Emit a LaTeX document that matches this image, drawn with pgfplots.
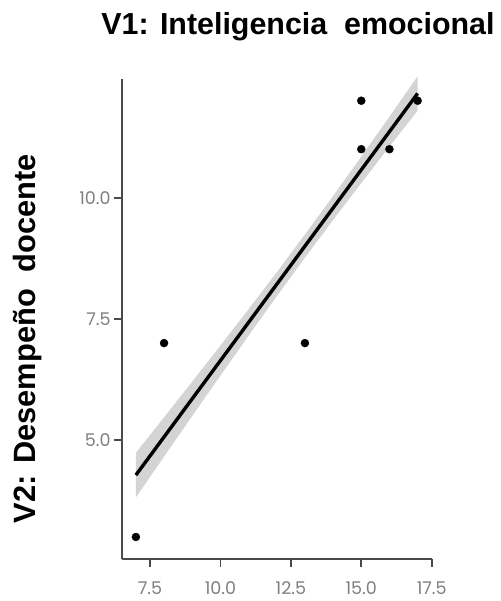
\documentclass[border=0pt]{standalone}
\usepackage{pgfplots}
\pgfplotsset{compat=1.18}
\usepackage{fontspec}
\setmainfont{Liberation Sans}
\newfontfamily\tickfont{Poppins}
\definecolor{axisgray}{HTML}{4A4A4A}
\definecolor{tickgray}{HTML}{7F7F7F}
\definecolor{bandgray}{HTML}{D4D4D4}
\begin{document}
\begin{tikzpicture}[x=1pt,y=1pt]
\useasboundingbox (0,0) rectangle (500,601);
\begin{axis}[
  at={(121.8pt,42.2pt)}, anchor=south west,
  scale only axis, width=309.9pt, height=479.9pt,
  xmin=6.5, xmax=17.5, ymin=2.55, ymax=12.45,
  axis x line*=bottom, axis y line*=left,
  axis line style={-, draw=axisgray, line width=1.8pt},
  xtick={7.5,10,12.5,15,17.5}, ytick={5,7.5,10},
  tick align=outside, major tick length=8pt,
  every tick/.style={draw=axisgray, line width=1.8pt},
  /pgf/number format/.cd, fixed, fixed zerofill, precision=1, assume math mode=true,
  /pgfplots/.cd,
  ticklabel style={font=\tickfont\fontsize{17.5}{17.5}\selectfont, text=tickgray, inner sep=0pt},
  xticklabel style={anchor=north, yshift=-15pt},
  yticklabel style={anchor=east, xshift=-3pt},
  clip=false,
]
% confidence band
\addplot [fill=bandgray, draw=none, forget plot] coordinates {
 (7,4.736) (8,5.469) (9,6.205) (10,6.947) (11,7.699) (12,8.461) (13,9.239)
 (14,10.035) (15,10.847) (16,11.671) (17,12.503)
 (17,11.795) (16,11.053) (15,10.301) (14,9.539) (13,8.761) (12,7.965)
 (11,7.153) (10,6.329) (9,5.497) (8,4.659) (7,3.818)
} -- cycle;
% regression line
\addplot [black, line width=3.4pt] coordinates {(7,4.277) (17,12.149)};
% points
\addplot [only marks, mark=*, mark size=4pt, mark options={fill=black, draw=black}] coordinates {
 (7,3) (8,7) (13,7) (15,12) (15,11) (16,11) (17,12)
};
\end{axis}
\node[anchor=base, inner sep=0pt, font=\bfseries\fontsize{30.4}{30.4}\selectfont] at (298,566) {V1: Inteligencia\ \ emocional};
\node[anchor=base, inner sep=0pt, rotate=90, font=\bfseries\fontsize{30.8}{30.8}\selectfont] at (35,262.5) {V2: Desempeño\ \ docente};
\end{tikzpicture}
\end{document}
